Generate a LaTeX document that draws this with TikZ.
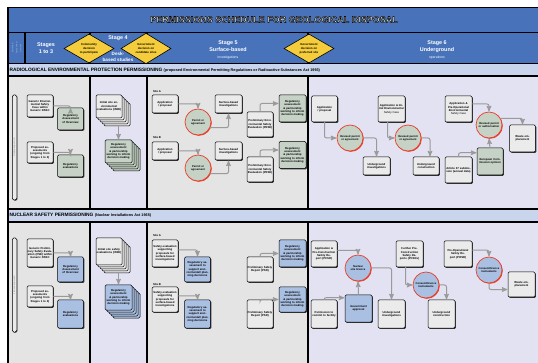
\documentclass[tikz,border=0pt]{standalone}
\usepackage{fontspec}
\setmainfont{Liberation Sans}
\usetikzlibrary{arrows,shapes.geometric,shadows,positioning}

\definecolor{bandblue}{HTML}{4873BA}
\definecolor{headblue}{HTML}{C8D5EC}
\definecolor{panelgrey}{HTML}{E4E4E4}
\definecolor{panellilac}{HTML}{E2E2F2}
\definecolor{boxgrey}{HTML}{EBEBEB}
\definecolor{regreen}{HTML}{C5D2C5}
\definecolor{regblue}{HTML}{AAC0E2}
\definecolor{permred}{HTML}{E8402A}
\definecolor{gateyellow}{HTML}{F4CC3C}
\definecolor{flowgrey}{HTML}{9A9A9A}
\definecolor{tagblue}{HTML}{A8BCE0}

\newcommand{\boxfont}{\fontsize{2.8}{3.3}\selectfont\bfseries}
\newcommand{\permfont}{\fontsize{2.7}{3.1}\selectfont\bfseries}
\newcommand{\gatefont}{\fontsize{2.9}{3.8}\selectfont\bfseries}
\newcommand{\stagefont}{\fontsize{5.4}{7}\selectfont\bfseries}
\newcommand{\stagesub}{\fontsize{3.4}{4}\selectfont\mdseries}
\newcommand{\headfont}{\fontsize{4.8}{6}\selectfont\bfseries}
\newcommand{\headsub}{\fontsize{3.8}{6}\selectfont}
\newcommand{\titlefont}{\fontsize{9}{10}\selectfont\bfseries}
% outlined lettering: fill white, stroke black
\newcommand{\outlined}[1]{\special{pdf:literal direct 2 Tr 0.45 w 0 G}#1\special{pdf:literal direct 0 Tr}}

\begin{document}
\begin{tikzpicture}[x=1pt,y=-1pt,
  flow/.style={->,>=stealth',draw=flowgrey,line width=1pt,rounded corners=2pt,shorten >=0.3pt},
  rule/.style={draw=black,line width=1.6pt},
  colrule/.style={draw=black,line width=1.1pt},
  procbox/.style={draw=black,line width=0.5pt,rounded corners=1.2pt,fill=boxgrey,
    font=\boxfont,align=center,text width=25pt,inner sep=0.4pt,minimum width=26pt,
    drop shadow={shadow xshift=0.9pt,shadow yshift=-0.9pt,fill=black!80,opacity=1}},
  stackbox/.style={procbox,
    general shadow={shadow xshift=8pt,shadow yshift=-8pt,draw=black,line width=0.5pt,fill=#1},
    general shadow={shadow xshift=6pt,shadow yshift=-6pt,draw=black,line width=0.5pt,fill=#1},
    general shadow={shadow xshift=4pt,shadow yshift=-4pt,draw=black,line width=0.5pt,fill=#1},
    general shadow={shadow xshift=2pt,shadow yshift=-2pt,draw=black,line width=0.5pt,fill=#1}},
  permit/.style={circle,draw=permred,line width=0.7pt,fill=#1,minimum size=26pt,inner sep=0pt,
    text width=23pt,align=center,font=\permfont,
    drop shadow={shadow xshift=0.8pt,shadow yshift=-0.8pt,fill=permred,opacity=1}},
  gate/.style={diamond,draw=black,line width=0.6pt,fill=gateyellow,minimum width=50pt,
    minimum height=29pt,inner sep=0pt,font=\gatefont,align=center},
  fwbar/.style={draw=black,line width=0.5pt,rounded corners=1.5pt,fill=boxgrey,rotate=90,
    minimum height=4.5pt,inner sep=0pt,font=\fontsize{1.8}{2}\selectfont,text=black!60,
    drop shadow={shadow xshift=0.7pt,shadow yshift=-0.7pt,fill=black!80,opacity=1}},
  stagetext/.style={font=\stagefont,text=white,align=center},
  sitetag/.style={anchor=west,font=\fontsize{2.8}{3}\selectfont\bfseries}]

  \useasboundingbox (0,0) rectangle (538,363);

  % bands and columns
  \fill[bandblue] (8,8) rectangle (540,63);
  \fill[headblue] (8,64) rectangle (540,76);
  \fill[headblue] (8,209) rectangle (540,222);
  \foreach \ya/\yb in {76/209,222/365} {
    \fill[panelgrey] (8,\ya) rectangle (90,\yb);
    \fill[panellilac] (90,\ya) rectangle (147,\yb);
    \fill[panelgrey] (147,\ya) rectangle (308,\yb);
    \fill[panellilac] (308,\ya) rectangle (540,\yb);
  }
  \foreach \y in {7.5,32.5,63.5,76.3,209.3,222}
    \draw[rule] (8,\y) -- (540,\y);
  \draw[rule] (8,6.7) -- (8,365);
  \draw[colrule] (25,32.5) -- (25,63.5);
  \foreach \x in {90,147,308} {
    \draw[colrule] (\x,32.5) -- (\x,63.5);
    \draw[colrule] (\x,76.3) -- (\x,209.3);
    \draw[colrule] (\x,222) -- (\x,365);
  }

  % title
  \node[font=\titlefont,text=white] (title) at (274,19.5) {\outlined{PERMISSIONS SCHEDULE FOR GEOLOGICAL DISPOSAL}};

  % stages
  \node[rotate=90,font=\fontsize{2.2}{4}\selectfont,text=tagblue,align=center] (flowtag) at (16.5,48) {Work flow\\Assessment\\Decision};
  \node[stagetext] (stages13) at (46,48) {Stages\\1 to 3};
  \node[stagetext] (stage4) at (118,38.5) {Stage 4};
  \node[stagetext,font=\fontsize{4.6}{6}\selectfont\bfseries] (desk) at (118,57) {Desk-\\based studies};
  \node[stagetext] (stage5) at (228,50) {Stage 5\\Surface-based\\{\stagesub investigations}};
  \node[stagetext] (stage6) at (437,50) {Stage 6\\Underground\\{\stagesub operations}};
  \node[gate] (community) at (89,48.5) {Community\\decision\\to participate};
  \node[gate] (candidate) at (146,48.5) {Government\\decision on\\candidate sites};
  \node[gate] (preferred) at (309,48.5) {Government\\decision on\\preferred site};

  % section headers
  \node[anchor=west,font=\headfont,inner sep=0pt] (radhead) at (9.5,70) {RADIOLOGICAL ENVIRONMENTAL PROTECTION PERMISSIONING {\headsub (proposed Environmental Permitting Regulations or Radioactive Substances Act 1993)}};
  \node[anchor=west,font=\headfont,inner sep=0pt] (nuchead) at (9.5,215.5) {NUCLEAR SAFETY PERMISSIONING {\headsub (Nuclear Installations Act 1965)}};

  % radiological: stages 1 to 3
  \node[fwbar,minimum width=105pt] (fwrad) at (14.5,147.5) {Framework agreement};
  \node[procbox,minimum height=22pt] (gesc) at (40,106) {Generic Environmental Safety Case within Generic DSSC};
  \node[procbox,fill=regreen,minimum width=25pt,minimum height=22pt] (gescreg) at (70.5,119) {Regulatory Assessment of Overview};
  \node[procbox,minimum height=21pt] (propenv) at (40,152.5) {Proposed assessments (ongoing from Stages 1 to 3)};
  \node[procbox,fill=regreen,minimum width=25pt,minimum height=22pt] (evalenv) at (70.5,166) {Regulatory evaluations};

  % radiological: stage 4
  \node[stackbox=boxgrey,minimum height=23pt] (isee) at (109,106.5) {Initial site environmental evaluations (ISEE)};
  \node[stackbox=regreen,fill=regreen,minimum width=27pt,minimum height=23pt] (iseereg) at (118.5,151.5) {Regulatory assessment \& partnership working to inform decision making};

  % radiological: stage 5
  \node[sitetag] (siteA) at (149.5,92) {Site A};
  \node[procbox,minimum height=18pt] (appA) at (165,104) {Application / proposal};
  \node[permit=regreen] (permA) at (198,122) {Permit or agreement};
  \node[procbox,minimum width=27pt,minimum height=18pt] (surfA) at (228.5,104) {Surface-based investigations};
  \node[procbox,minimum height=25pt] (peseA) at (260,124.5) {Preliminary Environmental Safety Evaluation (PESE)};
  \node[procbox,fill=regreen,minimum width=27pt,minimum height=27pt] (regA) at (292.5,108.5) {Regulatory assessment \& partnership working to inform decision making};

  \node[sitetag] (siteB) at (149.5,138) {Site B};
  \node[procbox,minimum height=18pt] (appB) at (165,151) {Application / proposal};
  \node[permit=regreen] (permB) at (198,168) {Permit or agreement};
  \node[procbox,minimum width=27pt,minimum height=18pt] (surfB) at (228.5,151) {Surface-based investigations};
  \node[procbox,minimum height=25pt] (peseB) at (260,169.5) {Preliminary Environmental Safety Evaluation (PESE)};
  \node[procbox,fill=regreen,minimum width=27pt,minimum height=27pt] (regB) at (292.5,155) {Regulatory assessment \& partnership working to inform decision making};

  % radiological: stage 6
  \node[procbox,minimum width=25pt,minimum height=26pt] (app1) at (324.5,109) {Application / proposal};
  \node[permit=regreen] (rev1) at (350,138) {Revised permit or agreement};
  \node[procbox,minimum width=27pt,minimum height=18pt] (ugi1) at (376.5,166) {Underground investigations};
  \node[procbox,minimum width=27pt,minimum height=26pt] (app2) at (391.5,109) {Application \& Initial Environmental {\mdseries Safety Case}};
  \node[permit=regreen] (rev2) at (408,138) {Revised permit or agreement};
  \node[procbox,minimum height=18pt] (ugc1) at (426,166) {Underground construction};
  \node[procbox,minimum width=27pt,minimum height=26pt] (app3) at (458.5,109) {Application \& Pre-Operational Environmental {\mdseries Safety Case}};
  \node[permit=regreen] (rev3) at (489,125) {Revised permit or authorisation};
  \node[procbox,minimum width=25pt,minimum height=27pt] (waste1) at (522.5,138.5) {Waste emplacement};
  \node[procbox,minimum width=27pt,minimum height=26pt] (art37) at (458.5,170) {Article 37 submission (annual data)};
  \node[procbox,fill=regreen,minimum height=27pt] (ecop) at (490,161.5) {European Commission opinion};

  % nuclear: stages 1 to 3
  \node[fwbar,minimum width=94pt] (fwnuc) at (14.5,285) {Framework agreement};
  \node[procbox,minimum height=28pt] (gpse) at (40,253) {Generic Preliminary Safety Evaluation (PSE) within Generic DSSC};
  \node[procbox,fill=regblue,minimum width=25pt,minimum height=25pt] (gpsereg) at (70.5,269.5) {Regulatory Assessment of Overview};
  \node[procbox,minimum height=21pt] (propnuc) at (40,296.5) {Proposed assessments (ongoing from Stages 1 to 3)};
  \node[procbox,fill=regblue,minimum width=25pt,minimum height=28pt] (evalnuc) at (70.5,314) {Regulatory evaluations};

  % nuclear: stage 4
  \node[stackbox=boxgrey,minimum height=27pt] (isse) at (109,251.5) {Initial site safety evaluations (ISSE)};
  \node[stackbox=regblue,fill=regblue,minimum width=27pt,minimum height=25pt] (issereg) at (118.5,297.5) {Regulatory assessment \& partnership working to inform decision making};

  % nuclear: stage 5
  \node[sitetag] (siteA2) at (149.5,236) {Site A};
  \node[procbox,minimum height=27pt] (safA) at (165,253.5) {Safety evaluation supporting proposals for surface-based investigations};
  \node[procbox,fill=regblue,minimum width=25pt,minimum height=25pt] (supA) at (197.5,269.5) {Regulatory assessment to support environmental/ planning decisions};
  \node[procbox,minimum height=25pt] (psrA) at (260,269.5) {Preliminary Safety Report (PSR)};
  \node[procbox,fill=regblue,minimum width=27pt,minimum height=27pt] (regA2) at (292.5,253.5) {Regulatory assessment \& partnership working to inform decision making};

  \node[sitetag] (siteB2) at (149.5,284) {Site B};
  \node[procbox,minimum height=25pt] (safB) at (165,299.5) {Safety evaluation supporting proposals for surface-based investigations};
  \node[procbox,fill=regblue,minimum width=25pt,minimum height=28pt] (supB) at (197.5,314) {Regulatory assessment to support environmental/ planning decisions};
  \node[procbox,minimum height=28pt] (psrB) at (260,314) {Preliminary Safety Report (PSR)};
  \node[procbox,fill=regblue,minimum width=27pt,minimum height=25pt] (regB2) at (292.5,299.5) {Regulatory assessment \& partnership working to inform decision making};

  % nuclear: stage 6
  \node[procbox,minimum height=26pt] (pcsr) at (324,254) {Application \& Pre-Construction Safety Report (PCSR)};
  \node[permit=regblue] (licence) at (358,268) {Nuclear site licence};
  \node[procbox,minimum height=28pt] (commit) at (324,314) {Permission to commit to facility};
  \node[procbox,fill=regblue,minimum width=27pt,minimum height=27pt] (govapp) at (358.5,308.5) {Government approval};
  \node[procbox,minimum width=27pt,minimum height=28pt] (ugi2) at (391.5,314) {Underground investigations};
  \node[procbox,minimum width=27pt,minimum height=26pt] (fpcsr) at (409.5,254) {Further Pre-Construction Safety Reports (PCSRs)};
  \node[permit=regblue] (consent1) at (426,285) {Consent/licence instruments};
  \node[procbox,minimum width=27pt,minimum height=28pt] (ugc2) at (441.5,314) {Underground construction};
  \node[procbox,minimum width=28pt,minimum height=26pt] (posr) at (458,254) {Pre-Operational Safety Report (POSR)};
  \node[permit=regblue] (consent2) at (489,270) {Consent/licence instruments};
  \node[procbox,minimum width=27pt,minimum height=25pt] (waste2) at (521.5,284.5) {Waste emplacement};

  % connectors
  \draw[flow] (gesc.east) -| (gescreg.north);
  \draw[flow] (propenv.east) -| (evalenv.north);
  \draw[flow] ([yshift=-7pt]isee.south -| iseereg.north) -- (iseereg.north);
  \draw[flow] (appA.east) -| (permA.north);
  \draw[flow] (permA.-25) -| (surfA.south);
  \draw[flow] (peseA.north) |- (regA.160);
  \draw[flow] (appB.east) -| (permB.north);
  \draw[flow] (permB.-25) -| (surfB.south);
  \draw[flow] (peseB.north) |- (regB.160);
  \draw[flow] (app1.south) |- (rev1.west);
  \draw[flow] (rev1.east) -| (ugi1.north);
  \draw[flow] ([xshift=-4pt]app2.south) |- (rev2.west);
  \draw[flow] (rev2.east) -| ([xshift=4pt]ugc1.north);
  \draw[flow] (app3.20) -| (rev3.north);
  \draw[flow] (rev3.30) -| (waste1.north);
  \draw[flow] (art37.north) |- ([yshift=-5pt]ecop.north west);
  \draw[flow] (ecop.north) -- (rev3.south);

  \draw[flow] (gpse.east) -| (gpsereg.north);
  \draw[flow] (propnuc.east) -| (evalnuc.north);
  \draw[flow] ([yshift=-7pt]isse.south -| issereg.north) -- (issereg.north);
  \draw[flow] (safA.15) -| (supA.north);
  \draw[flow] (psrA.north) |- (regA2.west);
  \draw[flow] (safB.15) -| (supB.north);
  \draw[flow] (psrB.north) |- (regB2.west);
  \draw[flow] (pcsr.15) -| (licence.north);
  \draw[flow] (commit.north) |- ([yshift=-3pt]govapp.north west);
  \draw[flow] (govapp.north) -- (licence.south);
  \draw[flow] (licence.east) -| (ugi2.north);
  \draw[flow] ([xshift=-4pt]fpcsr.south) |- (consent1.west);
  \draw[flow] (consent1.east) -| ([xshift=5pt]ugc2.north);
  \draw[flow] (posr.15) -| (consent2.north);
  \draw[flow] (consent2.south) |- (waste2.200);
\end{tikzpicture}
\end{document}
